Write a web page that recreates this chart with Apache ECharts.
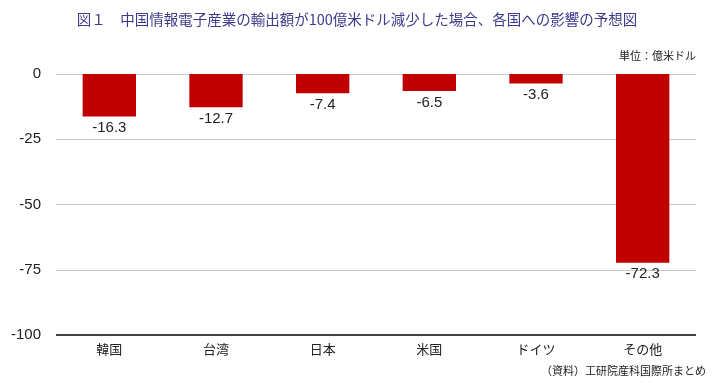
<!DOCTYPE html>
<html><head><meta charset="utf-8">
<script src="https://cdn.jsdelivr.net/npm/echarts@6/dist/echarts.min.js"></script>
<style>html,body{margin:0;padding:0;background:#fff}#c{width:714px;height:383px}</style>
</head><body><div id="c"></div>
<script>
const categories = ['韓国','台湾','日本','米国','ドイツ','その他'];
const values = [-16.3, -12.7, -7.4, -6.5, -3.6, -72.3];
const yTicks = [0, -25, -50, -75, -100];
const titleText = '図１　中国情報電子産業の輸出額が100億米ドル減少した場合、各国への影響の予想図';
const unitText = '単位：億米ドル';
const sourceText = '（資料）工研院産科国際所まとめ';

const jp = '"Noto Sans CJK JP", sans-serif';
const chart = echarts.init(document.getElementById('c'));
chart.setOption({
  animation: false,
  title: [
    {text: titleText, left: 'center', top: 7, textStyle: {fontFamily: jp, fontSize: 14.5, fontWeight: 'normal', color: '#3c3a8c'}},
  ],
  graphic: [
    {type: 'text', right: 18, top: 50, style: {text: unitText, font: '11px ' + jp, fill: '#222'}},
    {type: 'text', right: 8, top: 365, style: {text: sourceText, font: '11px ' + jp, fill: '#222'}}
  ],
  grid: {left: 56, right: 18, top: 74, bottom: 48},
  xAxis: {
    type: 'category', data: categories, position: 'bottom',
    axisLine: {show: false}, axisTick: {show: false},
    axisLabel: {fontFamily: jp, fontSize: 13, color: '#222', margin: 8}
  },
  yAxis: {
    type: 'value', min: -100, max: 0, interval: 25,
    axisLine: {show: false}, axisTick: {show: false},
    axisLabel: {fontFamily: 'Liberation Sans, sans-serif', fontSize: 15, color: '#222', margin: 15},
    splitLine: {lineStyle: {color: '#c8c8c8', width: 1.2}}
  },
  series: [
    {type: 'bar', data: values, barWidth: '50%',
     itemStyle: {color: '#c00000'},
     label: {show: true, position: 'bottom', distance: 4, fontFamily: 'Liberation Sans, sans-serif', fontSize: 15, color: '#222'},
     markLine: {silent: true, symbol: 'none', label: {show: false},
       lineStyle: {color: '#404040', width: 2, type: 'solid'},
       data: [{yAxis: yTicks[yTicks.length - 1]}]}
    }
  ]
});
</script></body></html>
